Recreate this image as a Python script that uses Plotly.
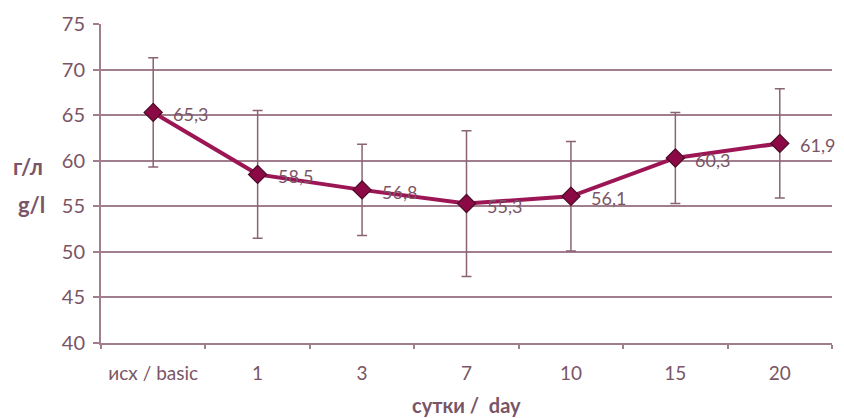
import plotly.graph_objects as go

categories = ["исх / basic", "1", "3", "7", "10", "15", "20"]
values = [65.3, 58.5, 56.8, 55.3, 56.1, 60.3, 61.9]
errors = [6.0, 7.0, 5.0, 8.0, 6.0, 5.0, 6.0]
labels = ["65,3", "58,5", "56,8", "55,3", "56,1", "60,3", "61,9"]

txt = "#7a5566"
grid = "#a07e8d"
fnt = "Lato"

fig = go.Figure()
fig.add_trace(go.Scatter(
    x=categories, y=values,
    mode="lines+markers",
    line=dict(color="#9c1655", width=4),
    marker=dict(symbol="diamond", size=14, color="#8b0a45",
                line=dict(color="#4a0a25", width=1.2)),
    error_y=dict(type="data", array=errors, visible=True,
                 color="#8a6474", thickness=1.5, width=5),
    cliponaxis=False,
))

annotations = []
for i, (v, lab) in enumerate(zip(values, labels)):
    annotations.append(dict(
        x=i, y=v, xref="x", yref="y", text=lab, showarrow=False,
        xanchor="left", yanchor="middle", xshift=18, yshift=-2,
        font=dict(family=fnt, size=18, color=txt),
    ))

annotations.append(dict(
    text="<b>г/л</b>", xref="paper", yref="paper",
    x=-0.1, y=0.552, xanchor="center", yanchor="middle",
    showarrow=False, font=dict(family=fnt, size=22, color=txt),
))
annotations.append(dict(
    text="<b>g/l</b>", xref="paper", yref="paper",
    x=-0.095, y=0.433, xanchor="center", yanchor="middle",
    showarrow=False, font=dict(family=fnt, size=22, color=txt),
))
annotations.append(dict(
    text="<b>сутки /  day</b>", xref="paper", yref="paper",
    x=0.5, y=0, xanchor="center", yanchor="middle", yshift=-62,
    showarrow=False, font=dict(family=fnt, size=20, color=txt),
))

fig.update_layout(
    width=836, height=410,
    margin=dict(l=93, r=12, t=16, b=75, autoexpand=False),
    paper_bgcolor="white", plot_bgcolor="white",
    showlegend=False,
    font=dict(family=fnt, size=19, color=txt),
    xaxis=dict(
        type="category", range=[-0.5, len(categories) - 0.5], automargin=False,
        showgrid=False, showline=True, linecolor=grid, linewidth=2,
        ticks="outside", tickson="boundaries", ticklen=4, tickcolor=grid, tickwidth=2,
        ticklabelstandoff=12, tickangle=0,
        tickfont=dict(family=fnt, size=19, color=txt),
    ),
    yaxis=dict(
        range=[40, 75], dtick=5, automargin=False,
        showgrid=True, gridcolor=grid, gridwidth=2,
        showline=True, linecolor=grid, linewidth=2,
        ticks="outside", ticklen=6, tickcolor=grid, tickwidth=2,
        ticklabelstandoff=4,
        tickfont=dict(family=fnt, size=20, color=txt),
        zeroline=False,
    ),
    annotations=annotations,
)

fig.write_html("out.html")
